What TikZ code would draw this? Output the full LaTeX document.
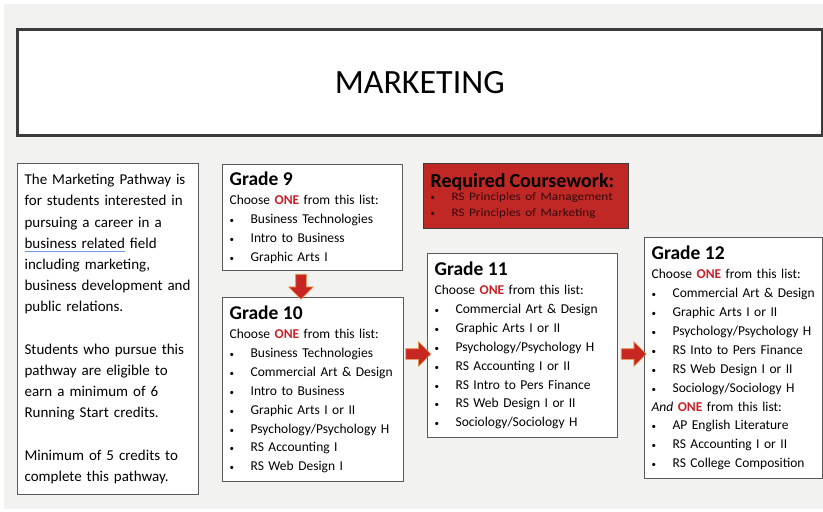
\documentclass[tikz,border=0pt]{standalone}
\usepackage{fontspec}
\setmainfont{Carlito}
\usetikzlibrary{shapes.arrows}

\definecolor{bggray}{RGB}{242,242,240}
\definecolor{boxline}{RGB}{90,90,90}
\definecolor{titleline}{RGB}{60,60,60}
\definecolor{onered}{RGB}{204,32,40}
\definecolor{reqred}{RGB}{192,40,38}
\definecolor{reqtext}{RGB}{50,10,10}
\definecolor{arrowred}{RGB}{200,38,34}
\definecolor{arroworange}{RGB}{226,150,70}
\definecolor{ulblue}{RGB}{110,150,225}

\newcommand{\itm}[1]{\makebox[21pt][l]{\fontsize{9}{9}\selectfont\textbullet}#1}
\newcommand{\one}{\textcolor{onered}{\bfseries ONE}}
\newcommand{\gradetitlefont}{\fontsize{19.5}{22}\selectfont\bfseries}
\newcommand{\blueul}[1]{\leavevmode\setbox0\hbox{#1}\rlap{\color{ulblue}\rule[-3.5pt]{\wd0}{1.3pt}}\box0\relax}

\begin{document}
\begin{tikzpicture}[x=1pt,y=-1pt,
    gradebox/.style={draw=boxline, line width=1.2pt, fill=white, anchor=north west, align=left,
        inner xsep=7pt, inner ysep=3pt, font=\fontsize{13.5}{18.9}\selectfont},
    bigarrow/.style={single arrow, fill=arrowred, draw=arroworange, line width=0.6pt, inner sep=0pt,
        text height=10pt, text depth=0pt, single arrow head extend=7pt, minimum height=25pt}]
    \useasboundingbox (0,0) rectangle (823,512);
    \fill[bggray] (4,4) rectangle (823,509);

    %title
    \node[draw=titleline, line width=2.5pt, fill=white, anchor=north west, minimum width=805pt,
        minimum height=106pt, font=\fontsize{34}{38}\selectfont] (title) at (16,28) {MARKETING};

    %pathway text
    \node[gradebox, minimum width=181pt, minimum height=331pt, text width=167pt,
        font=\fontsize{15}{21.2}\selectfont] (desc) at (17,163)
        {The Marketing Pathway is\\ for students interested in\\ pursuing a career in a\\
        \blueul{business related} field\\ including marketing,\\
        business development and\\ public relations.\\[21.2pt]
        Students who pursue this\\ pathway are eligible to\\ earn a minimum of 6\\ Running Start credits.\\[21.2pt]
        Minimum of 5 credits to\\ complete this pathway.};

    %grade 9
    \node[gradebox, minimum width=180pt, minimum height=106pt, text width=166pt] (g9) at (222,164)
        {{\gradetitlefont Grade 9}\\[0pt] Choose \one{} from this list:\\
        \itm{Business Technologies}\\ \itm{Intro to Business}\\ \itm{Graphic Arts I}};

    %grade 10
    \node[gradebox, minimum width=181pt, minimum height=184pt, text width=167pt] (g10) at (222,297)
        {{\gradetitlefont Grade 10}\\[0pt] Choose \one{} from this list:\\
        \itm{Business Technologies}\\ \itm{Commercial Art \& Design}\\ \itm{Intro to Business}\\
        \itm{Graphic Arts I or II}\\ \itm{Psychology/Psychology H}\\ \itm{RS Accounting I}\\ \itm{RS Web Design I}};

    %required
    \node[draw=titleline, line width=1.2pt, fill=reqred, anchor=north west, align=left, inner xsep=7pt,
        minimum width=205pt, minimum height=65pt, text width=191pt,
        font=\fontsize{11.5}{16}\selectfont] (req) at (423,163)
        {{\fontsize{20}{22}\selectfont\bfseries Required Coursework:}\\[-3pt]
        \textcolor{reqtext}{\itm{\scalebox{1.15}[1]{RS Principles of Management}}}\\
        \textcolor{reqtext}{\itm{\scalebox{1.15}[1]{RS Principles of Marketing}}}};

    %grade 11
    \node[gradebox, minimum width=190pt, minimum height=184pt, text width=176pt] (g11) at (427,253)
        {{\gradetitlefont Grade 11}\\[0pt] Choose \one{} from this list:\\
        \itm{Commercial Art \& Design}\\ \itm{Graphic Arts I or II}\\ \itm{Psychology/Psychology H}\\
        \itm{RS Accounting I or II}\\ \itm{RS Intro to Pers Finance}\\ \itm{RS Web Design I or II}\\
        \itm{Sociology/Sociology H}};

    %grade 12
    \node[gradebox, minimum width=178pt, minimum height=241pt, text width=164pt] (g12) at (644,237)
        {{\gradetitlefont Grade 12}\\[0pt] Choose \one{} from this list:\\
        \itm{Commercial Art \& Design}\\ \itm{Graphic Arts I or II}\\ \itm{Psychology/Psychology H}\\
        \itm{RS Into to Pers Finance}\\ \itm{RS Web Design I or II}\\ \itm{Sociology/Sociology H}\\
        \textit{And} \one{} from this list:\\
        \itm{AP English Literature}\\ \itm{RS Accounting I or II}\\ \itm{RS College Composition}};

    %arrows
    \coordinate (downx) at (301,0);
    \coordinate (righty) at (0,354);
    \path (g9.south -| downx) -- (g10.north -| downx) node[midway, sloped, bigarrow] {};
    \path (g10.east |- righty) -- (g11.west |- righty) node[midway, sloped, bigarrow] {};
    \path (g11.east |- righty) -- (g12.west |- righty) node[midway, sloped, bigarrow] {};
\end{tikzpicture}
\end{document}
